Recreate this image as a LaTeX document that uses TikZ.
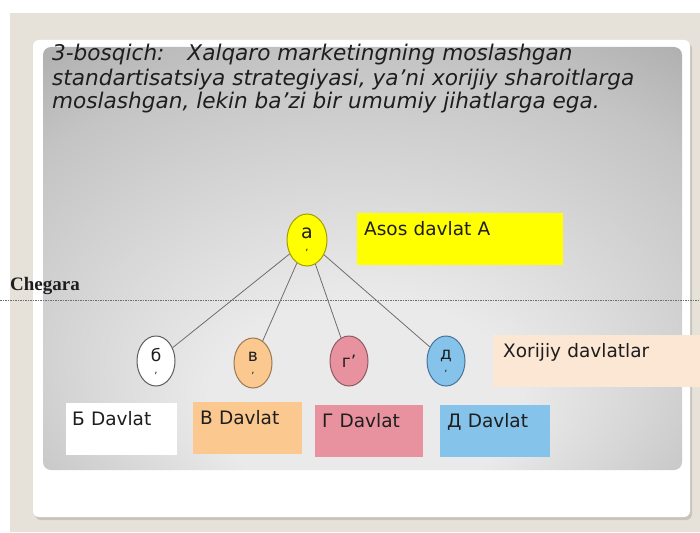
\documentclass[tikz,border=0pt]{standalone}
\usepackage{fontspec}
\setmainfont{DejaVu Sans}
\newfontfamily\borderfont{Liberation Serif}
\usetikzlibrary{shapes.geometric}

\definecolor{pagebeige}{HTML}{E7E2D9}
\definecolor{cardshadow}{HTML}{C9C4BA}
\definecolor{panelhi}{HTML}{EAEAEA}
\definecolor{panelmid}{HTML}{C4C4C4}
\definecolor{panello}{HTML}{909090}
\definecolor{inktext}{HTML}{1E1E1E}
\definecolor{linkgray}{HTML}{6E6E6E}
\definecolor{yellowfill}{HTML}{FFFF00}
\definecolor{yellowedge}{HTML}{A89C00}
\definecolor{peachfill}{HTML}{FBC890}
\definecolor{peachedge}{HTML}{9A7850}
\definecolor{pinkfill}{HTML}{E8929F}
\definecolor{pinkedge}{HTML}{8E5A62}
\definecolor{bluefill}{HTML}{86C3EA}
\definecolor{blueedge}{HTML}{47739A}
\definecolor{whiteedge}{HTML}{5E5E5E}
\definecolor{paleorange}{HTML}{FCE6D4}

\pgfdeclareradialshading{panelshade}{\pgfpoint{0bp}{-22bp}}{%
  color(0bp)=(panelhi); color(12bp)=(panelhi); color(32bp)=(panelmid); color(50bp)=(panello)}

\begin{document}
\begin{tikzpicture}[x=1pt, y=-1pt,
  headline/.style={anchor=base west, inner sep=0pt, text=inktext,
    font=\itshape\fontsize{21.6}{24}\selectfont},
  bubble/.style={ellipse, draw, line width=1pt, minimum width=38pt,
    minimum height=50pt, inner sep=0pt, align=center, text=inktext,
    font=\fontsize{17}{17}\selectfont},
  tag/.style={anchor=north west, inner xsep=7pt, inner ysep=0pt,
    text height=22pt, text depth=30pt, align=left, text=inktext,
    font=\fontsize{18.5}{20}\selectfont},
  link/.style={draw=linkgray, line width=0.8pt},
  borderline/.style={draw=linkgray, line width=0.8pt, dash pattern=on 1.5pt off 1pt}
]
\useasboundingbox (0,0) rectangle (700,532);

% page, card and shaded panel
\fill[white] (0,0) rectangle (700,532);
\fill[pagebeige] (10,13) rectangle (700,532);
\fill[cardshadow, rounded corners=6pt] (35,43) rectangle (692,520);
\fill[white, rounded corners=6pt] (33,40) rectangle (690,517);
\path[shading=panelshade, rounded corners=8pt] (43,47) rectangle (682,470);

% heading
\node[headline] (t1) at (52,61) {3-bosqich:\hspace{23pt}Xalqaro marketingning moslashgan};
\node[headline] (t2) at (52,85) {standartisatsiya strategiyasi, ya’ni xorijiy sharoitlarga};
\node[headline] (t3) at (52,109) {moslashgan, lekin ba’zi bir umumiy jihatlarga ega.};

% border line
\node[anchor=base west, inner sep=0pt, text=inktext,
  font=\borderfont\bfseries\fontsize{19}{19}\selectfont] (cheg) at (10,290) {Chegara};
\coordinate (bl) at (0,300);
\coordinate (br) at (700,300);
\draw[borderline] (bl) -- (br);

% home country
\node[bubble, fill=yellowfill, draw=yellowedge, minimum width=40pt, minimum height=52pt,
  font=\fontsize{19}{17}\selectfont]
  (a) at (307,240) {а\\[-5pt]{\fontsize{10}{10}\selectfont,}};
\node[tag, fill=yellowfill, text width=192pt] (home) at (357,213) {Asos davlat A};

% foreign countries
\node[bubble, fill=white, draw=whiteedge] (b) at (156,361) {б\\[-5pt]{\fontsize{10}{10}\selectfont,}};
\node[bubble, fill=peachfill, draw=peachedge] (v) at (253,363) {в\\[-5pt]{\fontsize{10}{10}\selectfont,}};
\node[bubble, fill=pinkfill, draw=pinkedge] (g) at (349,361) {г’};
\node[bubble, fill=bluefill, draw=blueedge] (d) at (446,361) {д\\[-5pt]{\fontsize{10}{10}\selectfont,}};
\node[tag, fill=paleorange, inner xsep=10pt, text width=195pt] (foreign) at (493,335) {Xorijiy davlatlar};

\draw[link] (a) -- (b);
\draw[link] (a) -- (v);
\draw[link] (a) -- (g);
\draw[link] (a) -- (d);

% country labels
\node[tag, fill=white, inner xsep=6pt, text width=99pt] (bb) at (66,403) {Б Davlat};
\node[tag, fill=peachfill, text width=95pt] (vb) at (193,402) {В Davlat};
\node[tag, fill=pinkfill, text width=94pt] (gb) at (315,405) {Г Davlat};
\node[tag, fill=bluefill, text width=96pt] (db) at (440,405) {Д Davlat};
\end{tikzpicture}
\end{document}
